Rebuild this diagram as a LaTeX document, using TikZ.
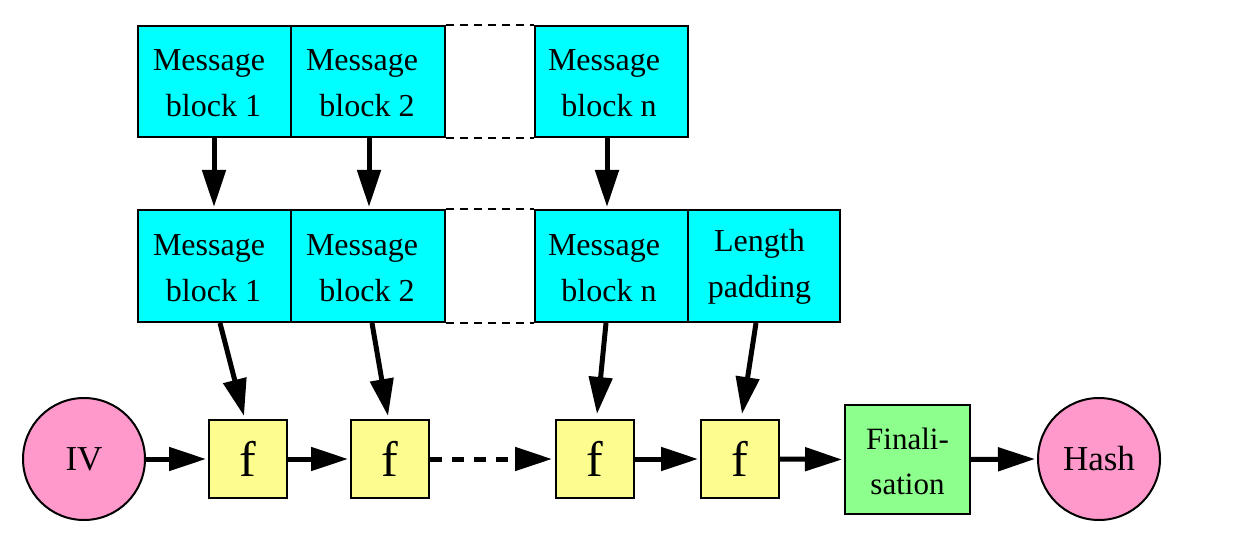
\documentclass[tikz,border=0pt]{standalone}
\usepackage{fontspec}
\setmainfont{Liberation Serif}
\usetikzlibrary{arrows.meta}
\definecolor{cblk}{RGB}{0,255,255}
\definecolor{fyel}{RGB}{252,252,143}
\definecolor{fgrn}{RGB}{140,255,140}
\definecolor{fpnk}{RGB}{255,153,204}
\tikzset{
  blk/.style={draw,line width=2pt,fill=cblk,minimum height=111pt,inner sep=0pt},
  lbl/.style={align=center,inner sep=0pt,font=\fontsize{32}{46}\selectfont},
  fbox/.style={draw,line width=2pt,fill=fyel,minimum width=78pt,minimum height=78pt,inner sep=0pt,font=\fontsize{50}{52}\selectfont},
  finbox/.style={draw,line width=2pt,fill=fgrn,minimum width=125pt,minimum height=109pt,inner sep=0pt},
  endpt/.style={circle,draw,line width=2pt,fill=fpnk,minimum size=122pt,inner sep=0pt,font=\fontsize{35}{38}\selectfont},
  flow/.style={line width=5pt,-{Triangle[length=37pt,width=23pt]}},
  gap/.style={line width=1.6pt,dash pattern=on 8pt off 6pt},
}
\begin{document}
\begin{tikzpicture}[x=1pt,y=-1pt]
\useasboundingbox (0,0) rectangle (1238,548);
% top row
\node[blk,minimum width=153pt] (t1) at (214.5,81.5) {};
\node[blk,minimum width=154pt] (t2) at (368,81.5) {};
\node[blk,minimum width=153pt] (tn) at (611.5,81.5) {};
\node[lbl] (t1l) at ([yshift=-2pt]t1.center) {Message\hspace*{11pt}\\block 1\hspace*{2pt}};
\node[lbl] (t2l) at ([yshift=-2pt]t2.center) {Message\hspace*{12pt}\\block 2\hspace*{2pt}};
\node[lbl] (tnl) at ([yshift=-2pt]tn.center) {Message\hspace*{15pt}\\block n\hspace*{5pt}};
% middle row
\node[blk,minimum width=153pt,minimum height=112pt] (m1) at (214.5,266) {};
\node[blk,minimum width=154pt,minimum height=112pt] (m2) at (368,266) {};
\node[blk,minimum width=153pt,minimum height=112pt] (mn) at (611.5,266) {};
\node[blk,minimum width=152pt,minimum height=112pt] (lp) at (764,266) {};
\node[lbl] (m1l) at ([yshift=-2pt]m1.center) {Message\hspace*{11pt}\\block 1\hspace*{2pt}};
\node[lbl] (m2l) at ([yshift=-2pt]m2.center) {Message\hspace*{12pt}\\block 2\hspace*{2pt}};
\node[lbl] (mnl) at ([yshift=-2pt]mn.center) {Message\hspace*{15pt}\\block n\hspace*{5pt}};
\node[lbl] (lpl) at ([yshift=-1pt]lp.center) {Length\hspace*{9pt}\\padding\hspace*{9pt}};
% dashed gaps
\draw[gap] (t2.north east) -- (tn.north west);
\draw[gap] (t2.south east) -- (tn.south west);
\draw[gap] (m2.north east) -- (mn.north west);
\draw[gap] (m2.south east) -- (mn.south west);
% bottom row
\node[endpt] (iv) at (84,459) {IV};
\node[fbox] (f1) at (248,459) {f};
\node[fbox] (f2) at (390,459) {f};
\node[fbox] (f3) at (595,459) {f};
\node[fbox] (f4) at (740,459) {f};
\node[finbox] (fin) at (907.5,459.5) {};
\node[lbl,font=\fontsize{31}{45}\selectfont] (finl) at ([yshift=-2pt]fin.center) {Finali-\\sation};
\node[endpt] (hash) at (1099,459) {Hash};
% vertical arrows
\draw[flow] ([xshift=-0.5pt]t1.south) -- ([xshift=-0.5pt,yshift=2pt]m1.north);
\draw[flow] ([xshift=1pt]t2.south) -- ([xshift=1pt,yshift=2pt]m2.north);
\draw[flow] ([xshift=-4.5pt]tn.south) -- ([xshift=-4.5pt,yshift=2pt]mn.north);
% diagonal arrows
\draw[flow] ([xshift=5.5pt]m1.south) -- ([xshift=-4pt,yshift=3pt]f1.north);
\draw[flow] ([xshift=4pt]m2.south) -- ([xshift=-2pt,yshift=3pt]f2.north);
\draw[flow] ([xshift=-5.5pt]mn.south) -- ([xshift=2pt,yshift=5pt]f3.north);
\draw[flow] ([xshift=-8pt]lp.south) -- ([xshift=2pt,yshift=5pt]f4.north);
% horizontal arrows
\draw[flow] (iv.east) -- ([xshift=-2pt]f1.west);
\draw[flow] (f1.east) -- ([xshift=-2pt]f2.west);
\draw[flow,dash pattern=on 12pt off 10pt] (f2.east) -- ([xshift=-3pt]f3.west);
\draw[flow] (f3.east) -- ([xshift=-2pt]f4.west);
\draw[flow] (f4.east) -- ([xshift=-2pt]fin.west);
\draw[flow] (fin.east) -- ([xshift=-2pt]hash.west);
\end{tikzpicture}
\end{document}
